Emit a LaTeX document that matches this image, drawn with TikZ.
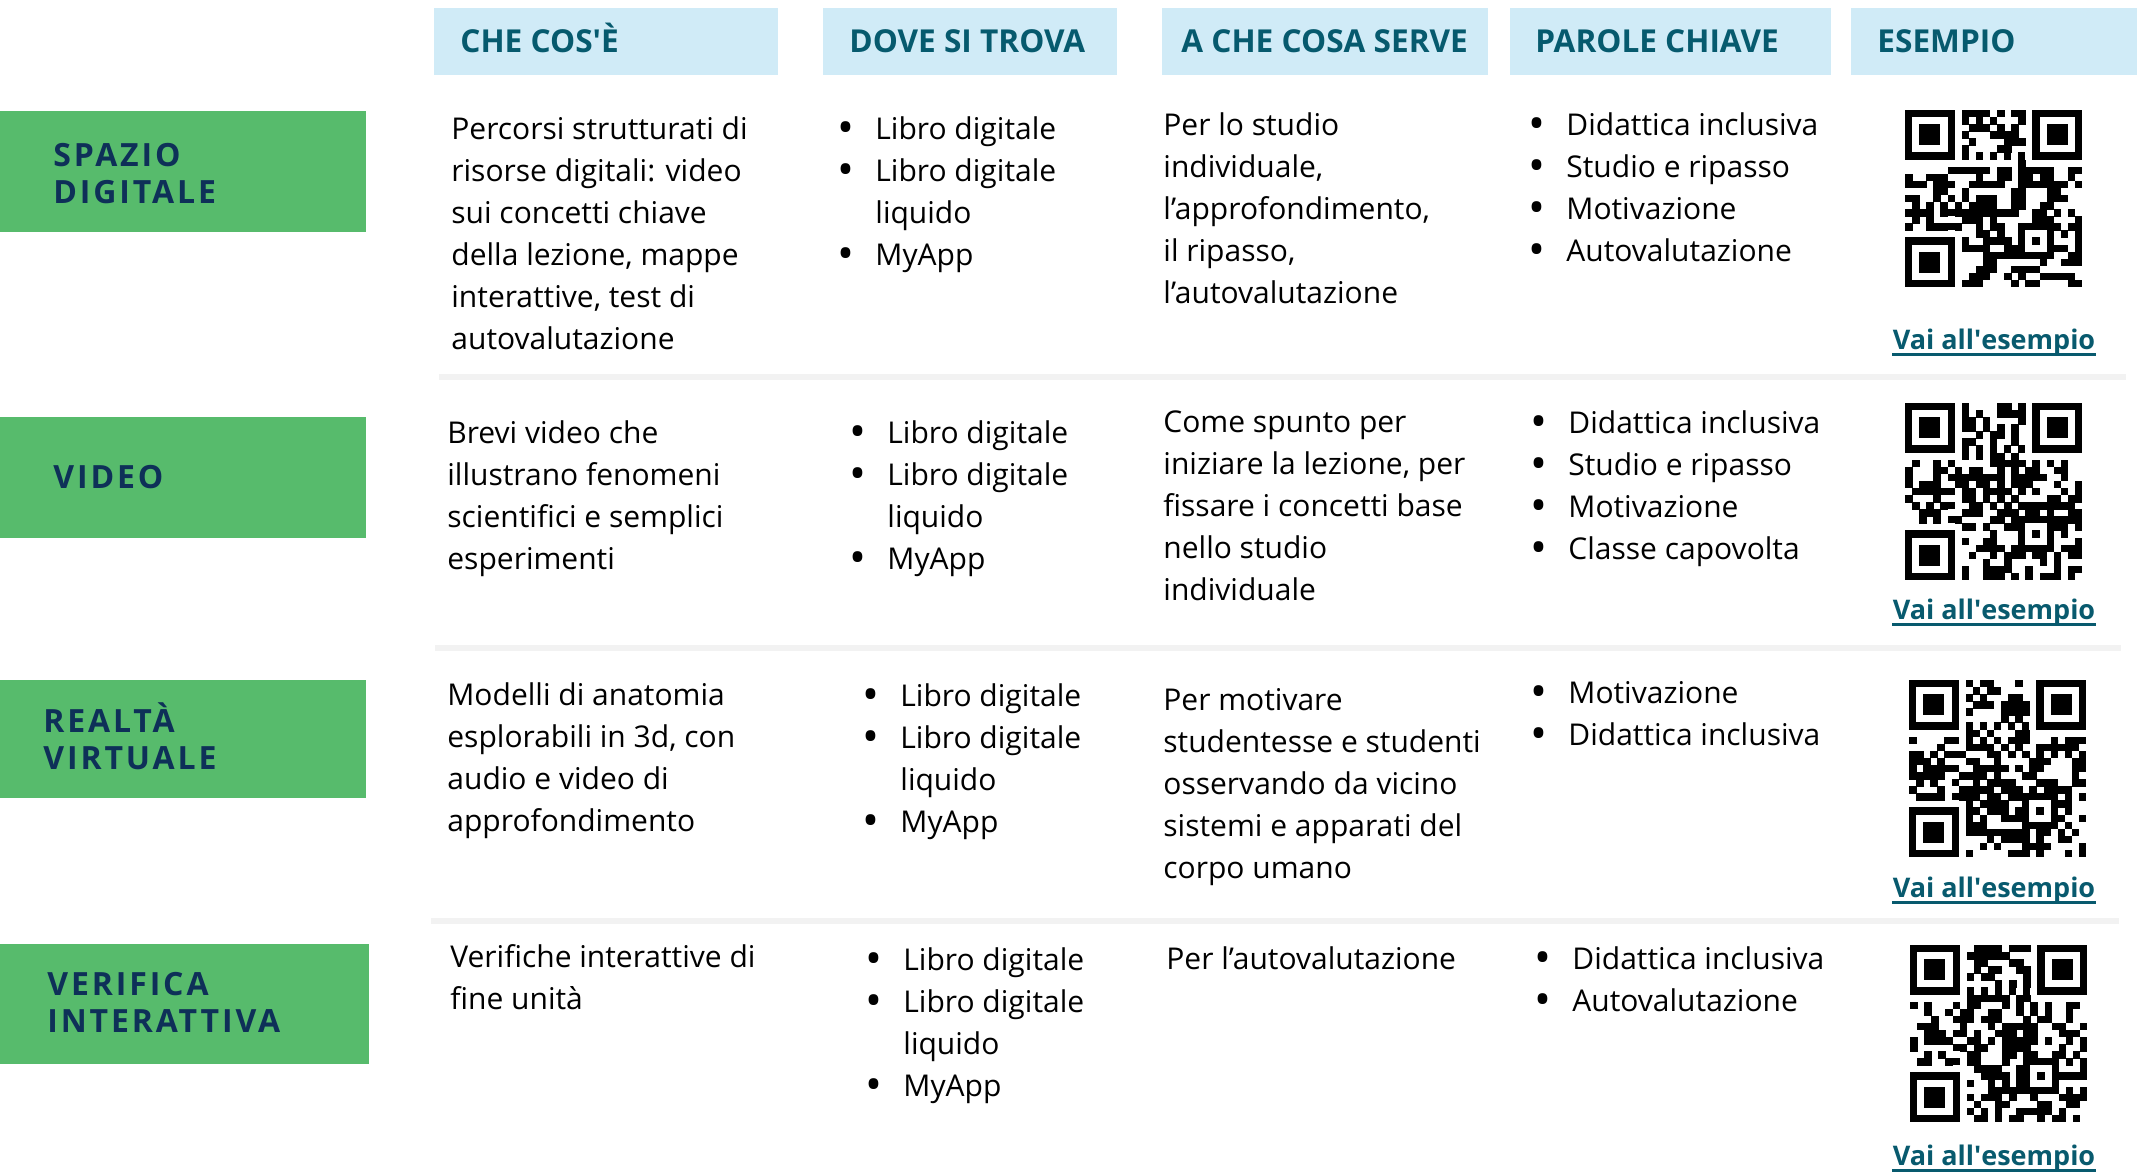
\documentclass[tikz,border=0pt]{standalone}
\usepackage{fontspec}
\usepackage{graphicx}
\setmainfont{Open Sans}
\newfontfamily\labelfont[LetterSpace=9]{Open Sans}
\usetikzlibrary{calc}
\definecolor{headblue}{RGB}{208,235,247}
\definecolor{headteal}{RGB}{6,90,110}
\definecolor{labgreen}{RGB}{87,187,108}
\definecolor{labnavy}{RGB}{14,48,88}
\definecolor{rulegray}{RGB}{242,242,242}
\definecolor{linkteal}{RGB}{8,90,110}
\newcommand{\tstrut}{\rule{0pt}{20pt}}
\newcommand{\bu}{\makebox[17.5pt][l]{\hspace*{-1.4pt}\raisebox{-2pt}{\scalebox{1.5}{\textbullet}}}}
\newcommand{\ind}{\hspace*{17.5pt}}
\newcommand{\qrmod}{7.08}
\newcommand{\drawqr}[3]{%
  \begin{scope}[shift={(#1,#2)}]
    \foreach \fx/\fy in {0/0,18/0,0/18}{
      \fill[black] (\fx*\qrmod,\fy*\qrmod) rectangle ++(7*\qrmod,7*\qrmod);
      \fill[white] (\fx*\qrmod+\qrmod,\fy*\qrmod+\qrmod) rectangle ++(5*\qrmod,5*\qrmod);
      \fill[black] (\fx*\qrmod+2*\qrmod,\fy*\qrmod+2*\qrmod) rectangle ++(3*\qrmod,3*\qrmod);
    }
    \fill[black] (16*\qrmod,16*\qrmod) rectangle ++(5*\qrmod,5*\qrmod);
    \fill[white] (17*\qrmod,17*\qrmod) rectangle ++(3*\qrmod,3*\qrmod);
    \fill[black] (18*\qrmod,18*\qrmod) rectangle ++(\qrmod,\qrmod);
    \foreach \k in {8,10,...,16}{
      \fill[black] (\k*\qrmod,6*\qrmod) rectangle ++(\qrmod,\qrmod);
      \fill[black] (6*\qrmod,\k*\qrmod) rectangle ++(\qrmod,\qrmod);
    }
    \pgfmathsetseed{#3}
    \foreach \r in {0,...,24}{
      \foreach \c in {0,...,24}{
        \pgfmathtruncatemacro{\qrfree}{((\r<8 && \c<8) || (\r<8 && \c>16) || (\r>16 && \c<8) || (\r>15 && \r<21 && \c>15 && \c<21) || \r==6 || \c==6) ? 0 : 1}
        \pgfmathrandominteger{\qrbit}{0}{99}
        \ifnum\qrfree=1 \ifnum\qrbit<50
          \fill[black] (\c*\qrmod,\r*\qrmod) rectangle ++(\qrmod+0.4,\qrmod+0.4);
        \fi\fi
      }
    }
  \end{scope}}
\begin{document}
\begin{tikzpicture}[x=0.5pt,y=0.5pt,yscale=-1,xscale=1,
  headtext/.style={anchor=base west,inner sep=0,text=headteal,font=\bfseries\fontsize{15.8}{18}\selectfont},
  rowlabel/.style={anchor=north west,inner sep=0,align=left,text=labnavy,font=\labelfont\bfseries\fontsize{16}{18.75}\selectfont},
  celltext/.style={anchor=north west,inner sep=0,align=left,text=black,font=\fontsize{15}{21}\selectfont},
  linktext/.style={anchor=base,inner sep=0,text=linkteal,font=\bfseries\fontsize{13.5}{16}\selectfont},
  linkline/.style={linkteal,line width=1.5pt},
  rowrule/.style={rulegray,line width=3pt}]
\useasboundingbox (0,0) rectangle (2141,1173);
\fill[white] (0,0) rectangle (2141,1173);
\fill[headblue] (434,8) rectangle (778,75);
\fill[headblue] (823,8) rectangle (1117,75);
\fill[headblue] (1162,8) rectangle (1488,75);
\fill[headblue] (1510,8) rectangle (1831,75);
\fill[headblue] (1851,8) rectangle (2137,75);
\fill[labgreen] (0,111) rectangle (366,232);
\fill[labgreen] (0,417) rectangle (366,538);
\fill[labgreen] (0,680) rectangle (366,798);
\fill[labgreen] (0,944) rectangle (369,1064);
\draw[rowrule] (439,377) -- (2126,377);
\draw[rowrule] (435,648) -- (2121,648);
\draw[rowrule] (431,921) -- (2119,921);
\draw (460,52) node[headtext] (hdcosa) {CHE COS\textquotesingle È};
\draw (849,52) node[headtext] (hddove) {DOVE SI TROVA};
\draw (1181,52) node[headtext] (hdserve) {A CHE COSA SERVE};
\draw (1535,52) node[headtext] (hdparole) {PAROLE CHIAVE};
\draw (1877,52) node[headtext] (hdesempio) {ESEMPIO};
\draw (53,126) node[rowlabel] (labspazio) {\tstrut SPAZIO\\DIGITALE};
\draw (53,448) node[rowlabel] (labvideo) {\tstrut VIDEO};
\draw (43,692) node[rowlabel] (labrealta) {\tstrut REALTÀ\\VIRTUALE};
\draw (47,955) node[rowlabel] (labverifica) {\tstrut VERIFICA\\INTERATTIVA};
\draw (451,99) node[celltext] (cosaspazio) {\tstrut Percorsi strutturati di\\risorse digitali: video\\sui concetti chiave\\della lezione, mappe\\interattive, test di\\autovalutazione};
\draw (840,99) node[celltext] (dovespazio) {\tstrut\bu Libro digitale\\\bu Libro digitale\\\ind liquido\\\bu MyApp};
\draw (1163,95) node[celltext] (servespazio) {\tstrut Per lo studio\\individuale,\\l’approfondimento,\\il ripasso,\\l’autovalutazione};
\draw (1531,95) node[celltext] (parolespazio) {\tstrut\bu Didattica inclusiva\\\bu Studio e ripasso\\\bu Motivazione\\\bu Autovalutazione};
\draw (447,403) node[celltext] (cosavideo) {\tstrut Brevi video che\\illustrano fenomeni\\scientifici e semplici\\esperimenti};
\draw (852,403) node[celltext] (dovevideo) {\tstrut\bu Libro digitale\\\bu Libro digitale\\\ind liquido\\\bu MyApp};
\draw (1163,392) node[celltext] (servevideo) {\tstrut Come spunto per\\iniziare la lezione, per\\fissare i concetti base\\nello studio\\individuale};
\draw (1533,393) node[celltext] (parolevideo) {\tstrut\bu Didattica inclusiva\\\bu Studio e ripasso\\\bu Motivazione\\\bu Classe capovolta};
\draw (447,665) node[celltext] (cosarealta) {\tstrut Modelli di anatomia\\esplorabili in 3d, con\\audio e video di\\approfondimento};
\draw (865,666) node[celltext] (doverealta) {\tstrut\bu Libro digitale\\\bu Libro digitale\\\ind liquido\\\bu MyApp};
\draw (1163,670) node[celltext] (serverealta) {\tstrut Per motivare\\studentesse e studenti\\osservando da vicino\\sistemi e apparati del\\corpo umano};
\draw (1533,663) node[celltext] (parolerealta) {\tstrut\bu Motivazione\\\bu Didattica inclusiva};
\draw (450,927) node[celltext] (cosaverifica) {\tstrut Verifiche interattive di\\fine unità};
\draw (868,930) node[celltext] (doveverifica) {\tstrut\bu Libro digitale\\\bu Libro digitale\\\ind liquido\\\bu MyApp};
\draw (1166,929) node[celltext] (serveverifica) {\tstrut Per l’autovalutazione};
\draw (1537,929) node[celltext] (paroleverifica) {\tstrut\bu Didattica inclusiva\\\bu Autovalutazione};
\drawqr{1905}{110}{11}
\drawqr{1905}{403}{23}
\drawqr{1909}{680}{37}
\drawqr{1910}{945}{52}
\draw (1994,349) node[linktext] (vaispazio) {Vai all\textquotesingle esempio};
\draw (1994,619) node[linktext] (vaivideo) {Vai all\textquotesingle esempio};
\draw (1994,897) node[linktext] (vairealta) {Vai all\textquotesingle esempio};
\draw (1994,1165) node[linktext] (vaiverifica) {Vai all\textquotesingle esempio};
\draw[linkline] ($(vaispazio.base west)+(0,5)$) -- ($(vaispazio.base east)+(0,5)$);
\draw[linkline] ($(vaivideo.base west)+(0,5)$) -- ($(vaivideo.base east)+(0,5)$);
\draw[linkline] ($(vairealta.base west)+(0,5)$) -- ($(vairealta.base east)+(0,5)$);
\draw[linkline] ($(vaiverifica.base west)+(0,5)$) -- ($(vaiverifica.base east)+(0,5)$);
\end{tikzpicture}
\end{document}
